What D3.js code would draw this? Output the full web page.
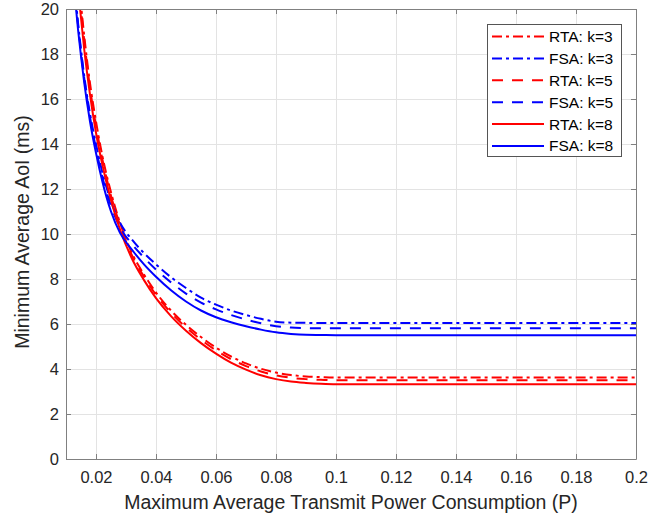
<!DOCTYPE html>
<html>
<head>
<meta charset="utf-8">
<script src="https://cdn.jsdelivr.net/npm/d3@7"></script>
<style>
  html, body { margin: 0; padding: 0; background: #fff; }
  svg { display: block; }
  text { font-family: "Liberation Sans", Arial, Helvetica, sans-serif; }
</style>
</head>
<body>
<svg id="chart" width="672" height="516"></svg>
<script>
// ---- data ----
const powerP = [0.012, 0.013, 0.014, 0.015, 0.016, 0.018, 0.02, 0.022, 0.025, 0.028, 0.032, 0.036, 0.04, 0.045, 0.05, 0.055, 0.06, 0.065, 0.07, 0.075, 0.08, 0.085, 0.09, 0.095, 0.1, 0.12, 0.15, 0.2];

const rtaK3 = [25.2, 23.3, 21.6, 20.2, 18.9, 16.7, 15.0, 13.55, 11.85, 10.5, 9.15, 8.2, 7.4, 6.6, 5.96, 5.42, 4.95, 4.56, 4.25, 4.01, 3.84, 3.73, 3.67, 3.64, 3.62, 3.62, 3.62, 3.62];
const fsaK3 = [22.4, 20.8, 19.4, 18.2, 17.1, 15.35, 14.0, 12.8, 11.45, 10.5, 9.75, 9.15, 8.65, 8.08, 7.6, 7.17, 6.86, 6.6, 6.4, 6.23, 6.1, 6.06, 6.05, 6.04, 6.04, 6.04, 6.04, 6.04];
const rtaK5 = [25.0, 23.1, 21.4, 20.0, 18.7, 16.5, 14.8, 13.4, 11.7, 10.4, 9.05, 8.1, 7.3, 6.5, 5.85, 5.3, 4.83, 4.44, 4.13, 3.89, 3.72, 3.61, 3.55, 3.52, 3.5, 3.5, 3.5, 3.5];
const fsaK5 = [22.3, 20.7, 19.3, 18.1, 17.0, 15.2, 13.8, 12.6, 11.25, 10.3, 9.55, 8.95, 8.42, 7.85, 7.35, 6.95, 6.65, 6.4, 6.2, 6.03, 5.9, 5.84, 5.82, 5.81, 5.81, 5.81, 5.81, 5.81];
const rtaK8 = [24.6, 22.7, 21.0, 19.6, 18.3, 16.2, 14.5, 13.15, 11.5, 10.2, 8.9, 7.95, 7.15, 6.35, 5.7, 5.15, 4.68, 4.28, 3.97, 3.72, 3.55, 3.44, 3.38, 3.34, 3.32, 3.32, 3.32, 3.32];
const fsaK8 = [22.1, 20.5, 19.1, 17.9, 16.8, 15.0, 13.6, 12.4, 11.0, 10.05, 9.3, 8.65, 8.1, 7.5, 7.0, 6.6, 6.3, 6.08, 5.9, 5.75, 5.63, 5.56, 5.52, 5.51, 5.5, 5.5, 5.5, 5.5];

const seriesNames = ["RTA: k=3", "FSA: k=3", "RTA: k=5", "FSA: k=5", "RTA: k=8", "FSA: k=8"];
const seriesValues = [rtaK3, fsaK3, rtaK5, fsaK5, rtaK8, fsaK8];
const seriesColors = ["#ff0000", "#0000ff", "#ff0000", "#0000ff", "#ff0000", "#0000ff"];
const seriesDash = ["10,4,3,4", "10,4,3,4", "11,9", "11,9", null, null];

const xTicks = [0.02, 0.04, 0.06, 0.08, 0.1, 0.12, 0.14, 0.16, 0.18, 0.2];
const xTickLabels = ["0.02", "0.04", "0.06", "0.08", "0.1", "0.12", "0.14", "0.16", "0.18", "0.2"];
const yTicks = [0, 2, 4, 6, 8, 10, 12, 14, 16, 18, 20];

const xLabel = "Maximum Average Transmit Power Consumption (P)";
const yLabel = "Minimum Average AoI (ms)";

// ---- layout ----
const margin = { left: 66, top: 9, right: 36, bottom: 57 };
const W = 672, H = 516;
const pw = W - margin.left - margin.right;   // 570
const ph = H - margin.top - margin.bottom;   // 450

const svg = d3.select("#chart");
const g = svg.append("g").attr("transform", `translate(${margin.left},${margin.top})`);

const x = d3.scaleLinear().domain([0.01, 0.2]).range([0, pw]);
const y = d3.scaleLinear().domain([0, 20]).range([ph, 0]);

const axisColor = "#808080";
const textColor = "#262626";
const gridColor = "#e3e3e3";

// grid
g.append("g").selectAll("line").data(xTicks).join("line")
  .attr("x1", d => x(d)).attr("x2", d => x(d)).attr("y1", 0).attr("y2", ph)
  .attr("stroke", gridColor).attr("stroke-width", 1).attr("shape-rendering", "crispEdges");
g.append("g").selectAll("line").data(yTicks).join("line")
  .attr("y1", d => y(d)).attr("y2", d => y(d)).attr("x1", 0).attr("x2", pw)
  .attr("stroke", gridColor).attr("stroke-width", 1).attr("shape-rendering", "crispEdges");

// clip
svg.append("defs").append("clipPath").attr("id", "clip")
  .append("rect").attr("x", 0).attr("y", 0).attr("width", pw).attr("height", ph);

// lines
const line = d3.line().curve(d3.curveMonotoneX);
const plotG = g.append("g").attr("clip-path", "url(#clip)");
seriesValues.forEach((vals, i) => {
  const pts = powerP.map((p, j) => [x(p), y(vals[j])]);
  plotG.append("path")
    .attr("d", line(pts))
    .attr("fill", "none")
    .attr("stroke", seriesColors[i])
    .attr("stroke-width", 2)
    .attr("stroke-dasharray", seriesDash[i]);
});

// axes
const tickFont = 16.5;
const xAxisB = d3.axisBottom(x).tickValues(xTicks).tickFormat((d, i) => xTickLabels[i]).tickSizeInner(-5).tickSizeOuter(0).tickPadding(12);
const xAxisT = d3.axisTop(x).tickValues(xTicks).tickFormat("").tickSizeInner(-5).tickSizeOuter(0);
const yAxisL = d3.axisLeft(y).tickValues(yTicks).tickSizeInner(-5).tickSizeOuter(0).tickPadding(7);
const yAxisR = d3.axisRight(y).tickValues(yTicks).tickFormat("").tickSizeInner(-5).tickSizeOuter(0);

function styleAxis(sel) {
  sel.select(".domain").attr("stroke", axisColor).attr("stroke-width", 1);
  sel.selectAll(".tick line").attr("stroke", axisColor).attr("stroke-width", 1);
  sel.selectAll(".tick text").attr("fill", textColor).style("font-size", tickFont + "px")
     .style("font-family", '"Liberation Sans", Arial, sans-serif');
}
g.append("g").attr("transform", `translate(0,${ph})`).call(xAxisB).call(styleAxis);
g.append("g").call(xAxisT).call(styleAxis);
g.append("g").call(yAxisL).call(styleAxis);
g.append("g").attr("transform", `translate(${pw},0)`).call(yAxisR).call(styleAxis);

// axis labels
svg.append("text")
  .attr("x", margin.left + pw / 2).attr("y", 509)
  .attr("text-anchor", "middle").attr("fill", textColor)
  .style("font-size", "19.5px").text(xLabel);
svg.append("text")
  .attr("transform", `translate(29,232) rotate(-90)`)
  .attr("text-anchor", "middle").attr("fill", textColor)
  .style("font-size", "19.5px").text(yLabel);

// legend
const lg = svg.append("g").attr("transform", "translate(487,24)");
lg.append("rect").attr("x", 0.5).attr("y", 0.5).attr("width", 134).attr("height", 132)
  .attr("fill", "#fff").attr("stroke", "#555").attr("stroke-width", 1);
seriesNames.forEach((name, i) => {
  const yy = 12.5 + i * 21.9;
  lg.append("line").attr("x1", 5).attr("x2", 57).attr("y1", yy).attr("y2", yy)
    .attr("stroke", seriesColors[i]).attr("stroke-width", 2)
    .attr("stroke-dasharray", seriesDash[i]);
  lg.append("text").attr("x", 62).attr("y", yy).attr("dy", "0.35em")
    .attr("fill", "#000").style("font-size", "15.5px").text(name);
});
</script>
</body>
</html>
